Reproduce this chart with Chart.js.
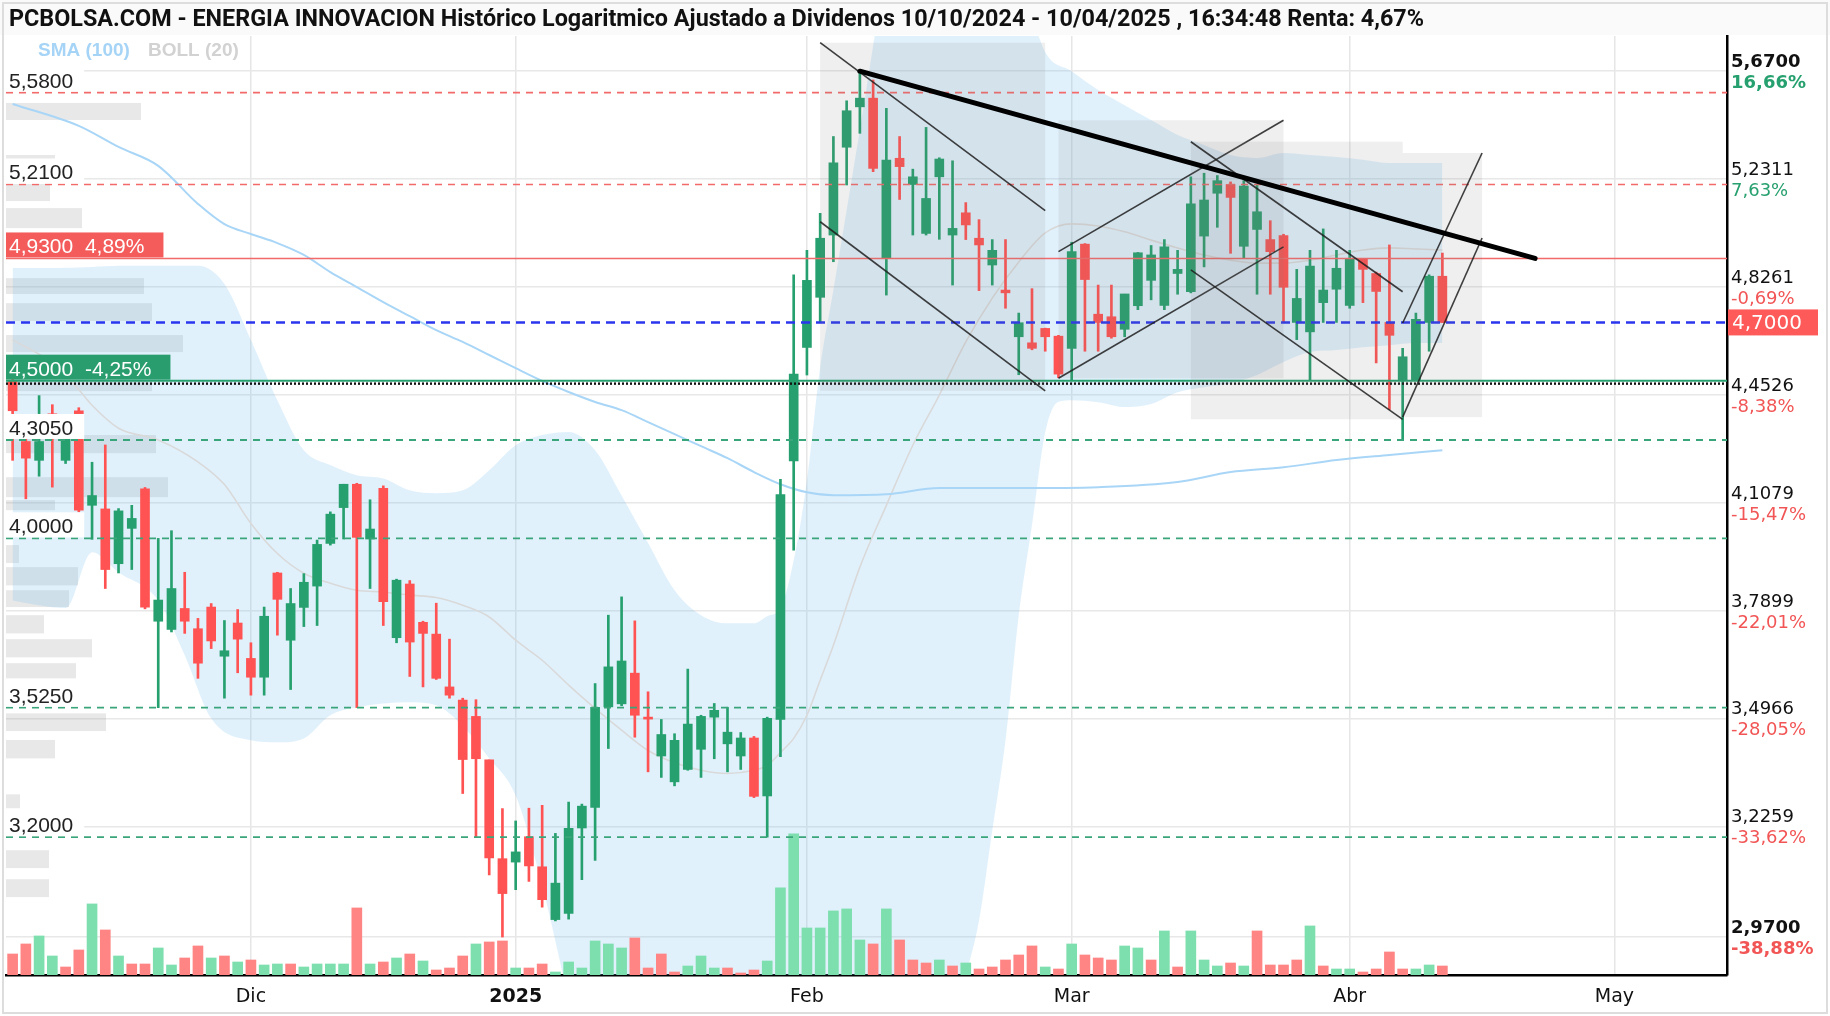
<!DOCTYPE html>
<html><head><meta charset="utf-8">
<script src="https://cdn.jsdelivr.net/npm/chart.js@4.4.1/dist/chart.umd.min.js"></script>
<style>html,body{margin:0;padding:0;background:#fff;}canvas{display:block;}</style>
</head><body>
<canvas id="c" width="1830" height="1016"></canvas>
<script>
const dates = ["2024-11-06","2024-11-07","2024-11-08","2024-11-11","2024-11-12","2024-11-13","2024-11-14","2024-11-15","2024-11-18","2024-11-19","2024-11-20","2024-11-21","2024-11-22","2024-11-25","2024-11-26","2024-11-27","2024-11-28","2024-11-29","2024-12-02","2024-12-03","2024-12-04","2024-12-05","2024-12-06","2024-12-09","2024-12-10","2024-12-11","2024-12-12","2024-12-13","2024-12-16","2024-12-17","2024-12-18","2024-12-19","2024-12-20","2024-12-23","2024-12-24","2024-12-27","2024-12-30","2024-12-31","2025-01-02","2025-01-03","2025-01-06","2025-01-07","2025-01-08","2025-01-09","2025-01-10","2025-01-13","2025-01-14","2025-01-15","2025-01-16","2025-01-17","2025-01-20","2025-01-21","2025-01-22","2025-01-23","2025-01-24","2025-01-27","2025-01-28","2025-01-29","2025-01-30","2025-01-31","2025-02-03","2025-02-04","2025-02-05","2025-02-06","2025-02-07","2025-02-10","2025-02-11","2025-02-12","2025-02-13","2025-02-14","2025-02-17","2025-02-18","2025-02-19","2025-02-20","2025-02-21","2025-02-24","2025-02-25","2025-02-26","2025-02-27","2025-02-28","2025-03-03","2025-03-04","2025-03-05","2025-03-06","2025-03-07","2025-03-10","2025-03-11","2025-03-12","2025-03-13","2025-03-14","2025-03-17","2025-03-18","2025-03-19","2025-03-20","2025-03-21","2025-03-24","2025-03-25","2025-03-26","2025-03-27","2025-03-28","2025-03-31","2025-04-01","2025-04-02","2025-04-03","2025-04-04","2025-04-07","2025-04-08","2025-04-09","2025-04-10","2025-04-11","2025-04-14","2025-04-15","2025-04-16","2025-04-17","2025-04-22","2025-04-23","2025-04-24","2025-04-25","2025-04-28","2025-04-29","2025-04-30","2025-05-02","2025-05-05","2025-05-06","2025-05-07","2025-05-08","2025-05-09","2025-05-12","2025-05-13","2025-05-14"];

const open  = [4.50,4.30,4.24,4.39,4.24,4.40,4.10,4.089,3.925,4.03,4.151,3.76,3.737,3.796,3.739,3.80,3.663,3.755,3.657,3.606,3.898,3.707,3.799,3.86,3.985,4.093,4.165,3.998,4.152,3.714,3.866,3.757,3.724,3.58,3.545,3.502,3.39,3.149,3.141,3.201,3.13,3.009,3.023,3.222,3.272,3.527,3.535,3.617,3.50,3.40,3.335,3.366,3.417,3.50,3.431,3.40,3.446,3.30,3.494,4.238,4.613,4.789,5.017,5.357,5.521,5.557,4.93,5.313,5.21,5.023,5.24,5.017,5.101,5.005,4.906,4.815,4.65,4.629,4.679,4.652,4.61,4.983,4.729,4.72,4.676,4.759,4.85,4.76,4.875,4.809,5.013,5.176,5.21,4.975,5.038,5.00,5.015,4.70,4.667,4.77,4.818,4.76,4.927,4.875,4.70,4.50,4.50,4.70,4.865];
const high  = [4.51,4.36,4.45,4.42,4.33,4.41,4.234,4.289,4.09,4.10,4.155,4.00,4.023,3.90,3.768,3.81,3.762,3.793,3.70,3.80,3.90,3.853,3.896,3.995,4.08,4.165,4.168,4.117,4.16,3.88,3.876,3.76,3.811,3.71,3.55,3.546,3.39,3.269,3.239,3.27,3.277,3.209,3.285,3.28,3.589,3.777,3.829,3.761,3.567,3.494,3.457,3.628,3.505,3.536,3.526,3.46,3.45,3.50,4.18,4.87,4.96,5.099,5.40,5.546,5.67,5.633,5.515,5.40,5.27,5.437,5.315,5.303,5.14,5.075,5.00,5.00,4.733,4.82,4.68,4.655,4.99,4.985,4.833,4.833,4.80,4.952,4.978,5.00,4.96,5.24,5.254,5.245,5.22,5.225,5.21,5.071,5.02,4.89,4.96,5.04,4.96,4.96,4.93,4.88,4.98,4.61,4.733,4.87,4.95];
const low   = [4.24,4.12,4.19,4.156,4.23,4.08,3.997,3.853,3.898,3.908,3.795,3.525,3.73,3.726,3.603,3.684,3.55,3.618,3.558,3.558,3.721,3.573,3.745,3.748,3.98,3.998,3.525,3.853,3.748,3.70,3.608,3.58,3.60,3.55,3.306,3.20,3.111,2.97,3.077,3.096,3.037,3.006,3.01,3.10,3.145,3.419,3.53,3.448,3.36,3.346,3.325,3.364,3.346,3.393,3.36,3.366,3.296,3.20,3.398,3.965,4.519,4.699,4.918,5.208,5.413,5.26,4.797,5.152,5.017,5.017,5.001,4.833,5.00,4.813,4.833,4.75,4.52,4.605,4.60,4.51,4.50,4.60,4.60,4.645,4.65,4.745,4.78,4.745,4.80,4.805,4.899,5.046,4.949,4.93,4.80,4.80,4.70,4.64,4.50,4.70,4.70,4.75,4.77,4.56,4.404,4.305,4.50,4.60,4.70];
const close = [4.40,4.247,4.30,4.33,4.31,4.085,4.13,3.908,4.083,4.06,3.80,3.82,3.853,3.76,3.644,3.705,3.678,3.71,3.606,3.774,3.822,3.81,3.871,3.982,4.073,4.165,4.003,4.028,3.815,3.877,3.702,3.726,3.603,3.558,3.391,3.393,3.151,3.068,3.165,3.132,3.054,3.092,3.221,3.275,3.526,3.634,3.65,3.505,3.495,3.455,3.44,3.482,3.502,3.518,3.461,3.446,3.299,3.497,4.133,4.522,4.85,5.005,5.295,5.505,5.557,5.273,5.306,5.28,5.24,5.156,5.31,5.042,5.055,4.98,4.96,4.805,4.699,4.61,4.65,4.522,4.955,4.853,4.70,4.65,4.801,4.951,4.943,4.973,4.89,5.135,5.15,5.225,5.16,5.204,5.105,4.955,4.825,4.785,4.902,4.815,4.894,4.927,4.89,4.81,4.655,4.581,4.711,4.865,4.70];
const volume = [21,31,39,19,8,25,71,45,19,11,11,27,10,17,29,17,19,13,15,10,11,11,8,11,11,11,67,11,13,17,21,14,5,7,19,31,33,34,7,7,11,3,13,7,34,31,27,37,7,21,3,9,19,7,7,2,5,14,87,141,47,47,64,66,35,31,66,35,15,12,15,9,12,6,8,15,20,29,8,6,31,20,17,15,29,27,15,44,8,44,15,9,12,9,44,10,10,15,49,9,6,6,3,6,23,6,6,10,9];

const smaLine = [["2024-11-06",5.533],["2024-11-13",5.443],["2024-11-18",5.358],["2024-11-21",5.283],["2024-11-26",5.135],["2024-11-28",5.058],["2024-12-02",5.021],["2024-12-04",4.987],["2024-12-06",4.943],["2024-12-10",4.880],["2024-12-12",4.826],["2024-12-16",4.772],["2024-12-18",4.722],["2024-12-20",4.673],["2024-12-24",4.632],["2024-12-30",4.587],["2025-01-02",4.542],["2025-01-06",4.499],["2025-01-08",4.462],["2025-01-10",4.429],["2025-01-14",4.402],["2025-01-16",4.363],["2025-01-20",4.324],["2025-01-22",4.285],["2025-01-24",4.247],["2025-01-28",4.203],["2025-01-30",4.165],["2025-02-03",4.140],["2025-02-05",4.131],["2025-02-11",4.134],["2025-02-17",4.153],["2025-02-25",4.153],["2025-03-05",4.156],["2025-03-13",4.172],["2025-03-19",4.203],["2025-03-25",4.218],["2025-03-31",4.241],["2025-04-04",4.257],["2025-04-10",4.272]];
const bollMid = [["2024-11-06",4.639],["2024-11-11",4.56],["2024-11-13",4.47],["2024-11-14",4.418],["2024-11-18",4.343],["2024-11-21",4.305],["2024-11-26",4.235],["2024-11-28",4.164],["2024-12-02",4.045],["2024-12-04",3.955],["2024-12-06",3.897],["2024-12-10",3.868],["2024-12-12",3.848],["2024-12-16",3.843],["2024-12-18",3.834],["2024-12-20",3.827],["2024-12-24",3.805],["2024-12-30",3.772],["2025-01-02",3.707],["2025-01-06",3.652],["2025-01-08",3.585],["2025-01-10",3.523],["2025-01-14",3.466],["2025-01-16",3.414],["2025-01-20",3.383],["2025-01-22",3.364],["2025-01-24",3.356],["2025-01-28",3.364],["2025-01-29",3.376],["2025-01-30",3.409],["2025-01-31",3.445],["2025-02-03",3.505],["2025-02-04",3.598],["2025-02-05",3.693],["2025-02-07",3.915],["2025-02-11",4.10],["2025-02-13",4.288],["2025-02-17",4.452],["2025-02-19",4.632],["2025-02-21",4.786],["2025-02-25",4.917],["2025-02-27",5.025],["2025-03-03",5.059],["2025-03-05",5.051],["2025-03-07",5.029],["2025-03-11",4.998],["2025-03-13",4.969],["2025-03-17",4.943],["2025-03-19",4.924],["2025-03-21",4.913],["2025-03-25",4.913],["2025-03-27",4.924],["2025-03-31",4.943],["2025-04-02",4.961],["2025-04-04",4.969],["2025-04-08",4.965],["2025-04-10",4.961]];
const bollUpper = [["2024-11-06",4.895],["2024-11-11",4.895],["2024-11-14",4.899],["2024-11-18",4.903],["2024-11-21",4.903],["2024-11-26",4.903],["2024-11-28",4.837],["2024-12-02",4.639],["2024-12-04",4.435],["2024-12-06",4.272],["2024-12-10",4.225],["2024-12-12",4.193],["2024-12-16",4.183],["2024-12-18",4.146],["2024-12-20",4.137],["2024-12-24",4.146],["2024-12-30",4.209],["2025-01-02",4.288],["2025-01-06",4.321],["2025-01-08",4.331],["2025-01-10",4.272],["2025-01-14",4.13],["2025-01-16",3.986],["2025-01-20",3.848],["2025-01-22",3.777],["2025-01-24",3.754],["2025-01-28",3.754],["2025-01-29",3.774],["2025-01-30",3.797],["2025-01-31",3.935],["2025-02-03",4.177],["2025-02-04",4.546],["2025-02-05",4.815],["2025-02-07",5.426],["2025-02-11",6.1],["2025-02-13",6.4],["2025-02-17",6.5],["2025-02-19",6.5],["2025-02-21",6.4],["2025-02-25",6.1],["2025-02-27",5.752],["2025-03-03",5.67],["2025-03-05",5.591],["2025-03-07",5.528],["2025-03-11",5.467],["2025-03-13",5.406],["2025-03-17",5.366],["2025-03-19",5.326],["2025-03-21",5.314],["2025-03-25",5.334],["2025-03-27",5.326],["2025-03-31",5.318],["2025-04-02",5.307],["2025-04-04",5.294],["2025-04-08",5.294],["2025-04-10",5.294]];
const bollLower = [["2024-11-06",3.819],["2024-11-08",3.805],["2024-11-12",3.797],["2024-11-14",3.959],["2024-11-18",3.90],["2024-11-21",3.819],["2024-11-25",3.666],["2024-11-27",3.497],["2024-12-02",3.440],["2024-12-04",3.435],["2024-12-06",3.445],["2024-12-10",3.505],["2024-12-12",3.526],["2024-12-16",3.536],["2024-12-18",3.539],["2024-12-20",3.531],["2024-12-24",3.477],["2024-12-30",3.394],["2025-01-02",3.301],["2025-01-06",3.087],["2025-01-08",2.833],["2025-01-10",2.6],["2025-01-20",2.35],["2025-01-28",2.3],["2025-02-05",2.3],["2025-02-13",2.5],["2025-02-17",2.7],["2025-02-19",2.887],["2025-02-20",3.007],["2025-02-21",3.216],["2025-02-24",3.44],["2025-02-25",3.777],["2025-02-26",4.04],["2025-02-27",4.33],["2025-02-28",4.43],["2025-03-03",4.435],["2025-03-05",4.428],["2025-03-07",4.412],["2025-03-11",4.422],["2025-03-13",4.461],["2025-03-17",4.478],["2025-03-19",4.491],["2025-03-21",4.519],["2025-03-25",4.563],["2025-03-27",4.597],["2025-03-31",4.604],["2025-04-02",4.614],["2025-04-04",4.621],["2025-04-08",4.628],["2025-04-10",4.628]];

const profileHigh = [5.537,5.326,5.212,5.119,4.858,4.768,4.656,4.502,4.321,4.187,4.116,3.980,3.915,3.848,3.777,3.710,3.644,3.510,3.441,3.304,3.169,3.101];
const profileLow  = [5.467,5.254,5.146,5.043,4.801,4.705,4.597,4.465,4.263,4.125,4.085,3.927,3.862,3.800,3.726,3.660,3.603,3.464,3.394,3.270,3.127,3.060];
const profileVol  = [135,49,44,76,138,146,177,146,150,162,49,13,72,63,38,86,70,100,49,14,43,43];

const levelPrices = [5.58,5.21,4.93,4.50,4.305,4.00,3.525,3.20];
const levelLabels = ["5,5800","5,2100","4,9300  4,89%","4,5000  -4,25%","4,3050","4,0000","3,5250","3,2000"];
const lastPrice = 4.70, lastPriceLabel = "4,7000";

const yTickValues = [5.67,5.2311,4.8261,4.4526,4.1079,3.7899,3.4966,3.2259,2.97];
const yTickLabels = ["5,6700","5,2311","4,8261","4,4526","4,1079","3,7899","3,4966","3,2259","2,9700"];
const yTickPct    = ["16,66%","7,63%","-0,69%","-8,38%","-15,47%","-22,01%","-28,05%","-33,62%","-38,88%"];

const monthTicks = [["2024-12-02","Dic"],["2025-01-02","2025"],["2025-02-03","Feb"],["2025-03-03","Mar"],["2025-04-01","Abr"],["2025-05-02","May"]];

const trendLine = [["2025-02-07",5.67],["2025-04-23",4.93]];
const channels = [
  {upper:[["2025-02-04",5.792],["2025-02-27",5.109]], lower:[["2025-02-04",5.067],["2025-02-27",4.466]]},
  {upper:[["2025-02-28",4.955],["2025-03-25",5.466]], lower:[["2025-02-28",4.508],["2025-03-25",4.973]]},
  {upper:[["2025-03-14",5.379],["2025-04-07",4.809]], lower:[["2025-03-14",4.888],["2025-04-07",4.372]]},
  {upper:[["2025-04-07",4.698],["2025-04-15",5.334]], lower:[["2025-04-07",4.379],["2025-04-15",5.006]]}
];

const titleText = "PCBOLSA.COM - ENERGIA INNOVACION Histórico Logaritmico Ajustado a Dividenos 10/10/2024 - 10/04/2025 , 16:34:48 Renta: 4,67%";

const UP = '#26a06e', DOWN = '#ff5252';
const candleColors = close.map((c,i)=> c >= open[i] ? UP : DOWN);
const volColors = volume.map((v,i)=> (i===0 ? close[i]>=open[i] : close[i]>=close[i-1]) ? '#7ddeae' : '#ff8484');
const monthIdx = new Set(monthTicks.map(m=>dates.indexOf(m[0])));
const toXY = arr => arr.map(p=>({x:p[0], y:p[1]}));

const overlay = {
  id:'overlay',
  beforeDraw(chart){
    const c = chart.ctx;
    c.save();
    c.fillStyle='#fff'; c.fillRect(0,0,chart.width,chart.height);
    c.fillStyle='#fafafa'; c.fillRect(0,0,chart.width,35);
    c.restore();
  },
  beforeDatasetsDraw(chart){
    const c = chart.ctx, y = chart.scales.y, a = chart.chartArea;
    const maxV = Math.max(...profileVol);
    c.save();
    c.beginPath(); c.rect(a.left,a.top,a.right-a.left,a.bottom-a.top); c.clip();
    c.fillStyle='rgba(150,150,150,0.22)';
    profileVol.forEach((v,i)=>{
      const y1 = y.getPixelForValue(profileHigh[i]), y2 = y.getPixelForValue(profileLow[i]);
      c.fillRect(a.left, y1, v/maxV*177, y2-y1);
    });
    c.restore();
  },
  afterDatasetsDraw(chart){
    const c = chart.ctx, x = chart.scales.x, y = chart.scales.y, a = chart.chartArea;
    const px = d => x.getPixelForValue(dates.indexOf(d));
    c.save();
    c.beginPath(); c.rect(a.left,a.top,a.right-a.left,a.bottom-a.top); c.clip();
    const hline = (p, color, w, dash) => {
      const yy = y.getPixelForValue(p);
      c.beginPath(); c.setLineDash(dash); c.strokeStyle=color; c.lineWidth=w;
      c.moveTo(a.left,yy); c.lineTo(a.right,yy); c.stroke();
    };
    levelPrices.forEach((p,i)=>{
      if (i<2) hline(p,'#f26a6a',1.6,[7,6]);
      else if (i===2) hline(p,'#f26a6a',1.6,[]);
      else if (i===3) { hline(p,'#26a06e',2,[]); hline(4.49,'#111',2.4,[2,2]); }
      else hline(p,'#3aa57a',1.8,[7,6]);
    });
    hline(lastPrice,'#2a35ee',2.4,[9,6]);
    c.setLineDash([]);
    channels.forEach(ch=>{
      const pts = [...ch.upper, ...ch.lower];
      const xs = pts.map(p=>px(p[0])), ys = pts.map(p=>y.getPixelForValue(p[1]));
      const x0=Math.min(...xs), x1=Math.max(...xs), y0=Math.min(...ys), y1=Math.max(...ys);
      c.fillStyle='rgba(120,120,120,0.12)';
      c.fillRect(x0,y0,x1-x0,y1-y0);
      c.strokeStyle='rgba(30,30,30,0.85)'; c.lineWidth=1.6;
      [ch.upper, ch.lower].forEach(l=>{
        c.beginPath();
        c.moveTo(px(l[0][0]), y.getPixelForValue(l[0][1]));
        c.lineTo(px(l[1][0]), y.getPixelForValue(l[1][1]));
        c.stroke();
      });
    });
    c.strokeStyle='#000'; c.lineWidth=5; c.lineCap='round';
    c.beginPath();
    c.moveTo(px(trendLine[0][0]), y.getPixelForValue(trendLine[0][1]));
    c.lineTo(px(trendLine[1][0]), y.getPixelForValue(trendLine[1][1]));
    c.stroke();
    c.lineCap='butt';
    c.restore();

    c.save();
    c.font = '21px "Liberation Sans", Arial, sans-serif';
    c.textBaseline='alphabetic';
    levelPrices.forEach((p,i)=>{
      const yy = y.getPixelForValue(p);
      const w = c.measureText(levelLabels[i]).width;
      let bg='#ffffff', fg='#222', pad=14;
      if (i===2){bg='#f45c5c'; fg='#fff'; pad=22;}
      if (i===3){bg='#2a9d6f'; fg='#fff'; pad=22;}
      c.fillStyle=bg; c.fillRect(a.left, yy-26, w+pad, 25);
      c.fillStyle=fg; c.fillText(levelLabels[i], a.left+3, yy-5);
    });
    c.font='bold 19px "Liberation Sans", Arial, sans-serif';
    c.textBaseline='middle';
    c.fillStyle='#a6d4f6'; c.fillText('SMA (100)', 38, 51, 100);
    c.fillStyle='#d2d2d2'; c.fillText('BOLL (20)', 148, 51, 99);
    c.textBaseline='alphabetic';
    yTickValues.forEach((v,i)=>{
      const yy = y.getPixelForValue(v);
      const bold = (i===0 || i===yTickValues.length-1);
      c.font = (bold?'bold ':'') + '18px "DejaVu Sans", sans-serif';
      c.fillStyle='#111'; c.fillText(yTickLabels[i], a.right+4, yy-4);
      c.fillStyle = yTickPct[i].startsWith('-') ? '#f25555' : '#26a06e';
      c.fillText(yTickPct[i], a.right+4, yy+17);
    });
    const ly = y.getPixelForValue(lastPrice);
    c.fillStyle='#ff5a5a'; c.fillRect(a.right+1, ly-13, 90, 26);
    c.fillStyle='#fff'; c.font='20px "DejaVu Sans", sans-serif'; c.textBaseline='middle';
    c.fillText(lastPriceLabel, a.right+5, ly+1);
    c.textAlign='center';
    monthTicks.forEach(m=>{
      c.font = (m[1]==='2025'?'bold ':'') + '19px "DejaVu Sans", sans-serif';
      c.fillStyle='#111';
      c.fillText(m[1], px(m[0]), a.bottom+22);
    });
    c.textAlign='left';
    c.font='bold 23.5px Roboto, "Open Sans", sans-serif';
    c.fillStyle='#111'; c.textBaseline='middle';
    c.fillText(titleText, 9, 20, 1415);
    c.strokeStyle='#dddddd'; c.lineWidth=2;
    c.strokeRect(3,3,chart.width-6,chart.height-6);
    c.restore();
  }
};

new Chart(document.getElementById('c'), {
  type:'bar',
  data:{
    labels: dates,
    datasets:[
      {label:'body', data: open.map((o,i)=>[o, close[i]]), backgroundColor: candleColors, barThickness:9, grouped:false, minBarLength:2, order:1},
      {label:'wick', data: low.map((l,i)=>[l, high[i]]), backgroundColor: candleColors, barThickness:2, grouped:false, order:2},
      {label:'vol', data: volume, yAxisID:'yv', backgroundColor: volColors, barThickness:10, grouped:false, order:5},
      {type:'line', label:'SMA', data: toXY(smaLine), borderColor:'#a9d6f7', borderWidth:2, pointRadius:0, cubicInterpolationMode:'monotone', order:3},
      {type:'line', label:'BOLL', data: toXY(bollMid), borderColor:'#d9d9d9', borderWidth:1.6, pointRadius:0, cubicInterpolationMode:'monotone', order:3},
      {type:'line', label:'up', data: toXY(bollUpper), borderWidth:0, borderColor:'rgba(0,0,0,0)', pointRadius:0, cubicInterpolationMode:'monotone', fill:'+1', backgroundColor:'rgba(120,190,240,0.22)', order:10},
      {type:'line', label:'lo', data: toXY(bollLower), borderWidth:0, borderColor:'rgba(0,0,0,0)', pointRadius:0, cubicInterpolationMode:'monotone', fill:false, order:11}
    ]
  },
  options:{
    responsive:false, animation:false, devicePixelRatio:1,
    layout:{padding:{left:6, top:36, right:103, bottom:41}},
    plugins:{legend:{display:false}, tooltip:{enabled:false}, title:{display:false}},
    scales:{
      x:{type:'category', offset:true,
         grid:{offset:false, drawTicks:false, lineWidth:1.5, color:(ctx)=> monthIdx.has(ctx.index) ? '#e6e6e6' : 'rgba(0,0,0,0)'},
         ticks:{display:false, autoSkip:false},
         border:{display:true, color:'#000', width:2.5}},
      y:{type:'logarithmic', position:'right', min:2.887, max:5.821,
         afterBuildTicks:(s)=>{ s.ticks = yTickValues.map(v=>({value:v})); },
         grid:{drawTicks:false, color:'#e8e8e8', lineWidth:1.5},
         ticks:{display:false},
         border:{display:true, color:'#000', width:2.5}},
      yv:{type:'linear', display:false, min:0, max:938}
    }
  },
  plugins:[overlay]
});
</script>
</body></html>
